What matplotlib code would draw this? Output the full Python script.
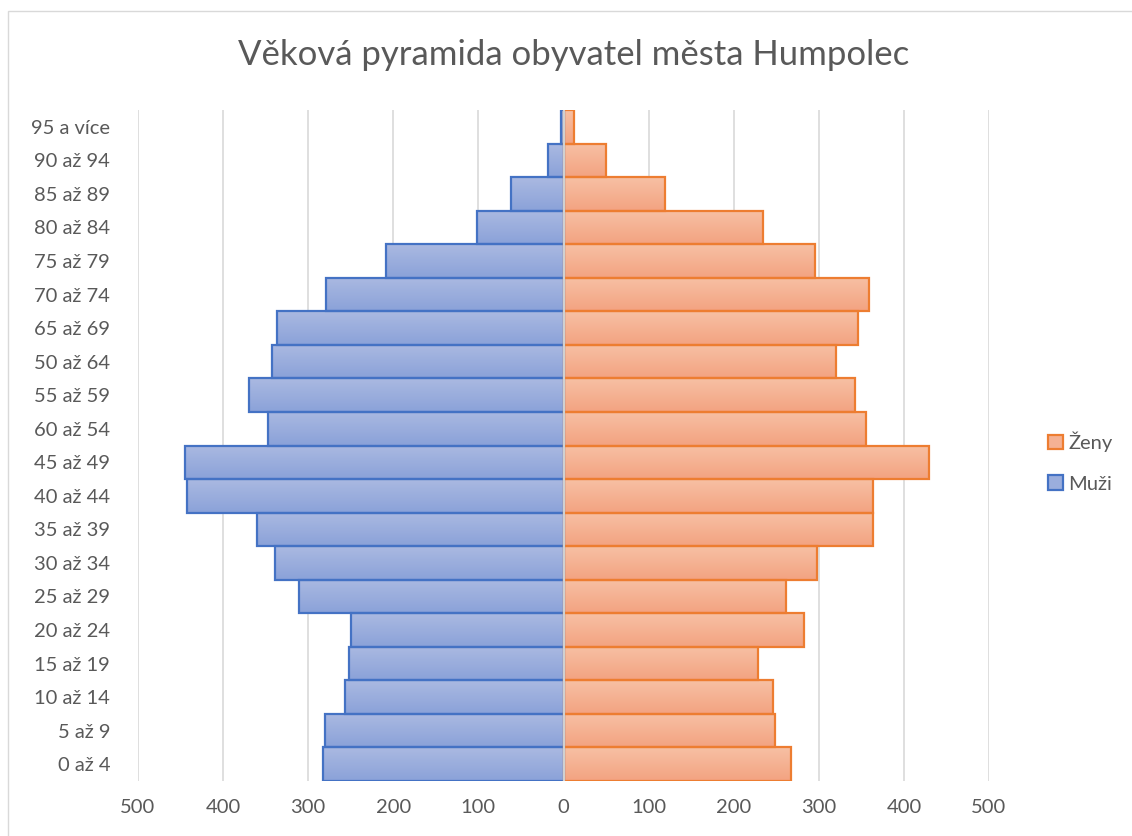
import matplotlib
matplotlib.use("Agg")
import matplotlib.pyplot as plt
import numpy as np
from matplotlib.patches import Rectangle, Patch

categories = ["0 až 4", "5 až 9", "10 až 14", "15 až 19", "20 až 24", "25 až 29",
              "30 až 34", "35 až 39", "40 až 44", "45 až 49", "60 až 54", "55 až 59",
              "50 až 64", "65 až 69", "70 až 74", "75 až 79", "80 až 84", "85 až 89",
              "90 až 94", "95 a více"]
muzi = [283, 280, 257, 252, 250, 311, 339, 360, 443, 445, 347, 370,
        342, 337, 279, 208, 102, 62, 18, 3]
zeny = [267, 248, 246, 229, 283, 261, 298, 364, 364, 429, 356, 343,
        320, 346, 359, 295, 234, 119, 50, 12]
xticks = [-500, -400, -300, -200, -100, 0, 100, 200, 300, 400, 500]
title = "Věková pyramida obyvatel města Humpolec"

FONT = ["Lato", "DejaVu Sans"]
plt.rcParams['font.family'] = FONT
GRAY = "#595959"

fig = plt.figure(figsize=(11.32, 8.36), dpi=100)
W, H = 1132, 836
ax = fig.add_axes([138 / W, 1 - 781 / H, (989 - 138) / W, (781 - 110) / H])

y = np.arange(len(categories))

def gradient_bars(values, top, bottom, edge, label):
    bars = ax.barh(y, values, height=1.0, facecolor="none", edgecolor=edge,
                   linewidth=1.6, zorder=3, label=label)
    c1 = np.array(matplotlib.colors.to_rgb(top))
    c2 = np.array(matplotlib.colors.to_rgb(bottom))
    t = np.linspace(0, 1, 32)[:, None]
    grad = (c1 * (1 - t) + c2 * t)[:, None, :]
    for b in bars:
        x0, yb = b.get_x(), b.get_y()
        w, h = b.get_width(), b.get_height()
        xa, xb = min(x0, x0 + w), max(x0, x0 + w)
        im = ax.imshow(grad, extent=(xa, xb, yb, yb + h), origin="upper",
                       aspect="auto", zorder=2, interpolation="bilinear")
        im.set_clip_path(b)
    return bars

gradient_bars([-v for v in muzi], "#AAB9E1", "#8BA2D9", "#4472C4", "Muži")
gradient_bars(zeny, "#F7C0A4", "#F3A381", "#ED7D31", "Ženy")

ax.set_xlim(-500, 500)
ax.set_ylim(-0.5, len(categories) - 0.5)

for xv in xticks:
    ax.axvline(xv, color="#D9D9D9", lw=1.2, zorder=1)
ax.axvline(0, color="#D0D0D0", lw=1.5, zorder=4)

ax.set_xticks(xticks)
ax.set_xticklabels([str(abs(v)) for v in xticks])
ax.set_yticks(y)
ax.set_yticklabels(categories)
ax.tick_params(axis="both", length=0, labelsize=14.5, colors=GRAY)
ax.tick_params(axis="x", pad=13)
ax.tick_params(axis="y", pad=20)
for s in ax.spines.values():
    s.set_visible(False)

fig.text(574 / W, 1 - 55 / H, title, ha="center", va="center", fontsize=25,
         color=GRAY, family=FONT)

handles = [Patch(facecolor="#F5B193", edgecolor="#ED7D31", linewidth=1.6, label="Ženy"),
           Patch(facecolor="#9BAEDD", edgecolor="#4472C4", linewidth=1.6, label="Muži")]
fig.legend(handles=handles, loc="center left", bbox_to_anchor=(1030 / W, 1 - 462 / H),
           frameon=False, fontsize=14.5, labelcolor=GRAY, handlelength=0.75,
           handleheight=0.75, handletextpad=0.25, labelspacing=1.15)

fig.add_artist(Rectangle((8 / W, -0.05), 1.2, 1 - 11 / H + 0.05, transform=fig.transFigure,
                         facecolor="none", edgecolor="#D9D9D9", lw=1.0))

fig.savefig("out.png", dpi=100)
